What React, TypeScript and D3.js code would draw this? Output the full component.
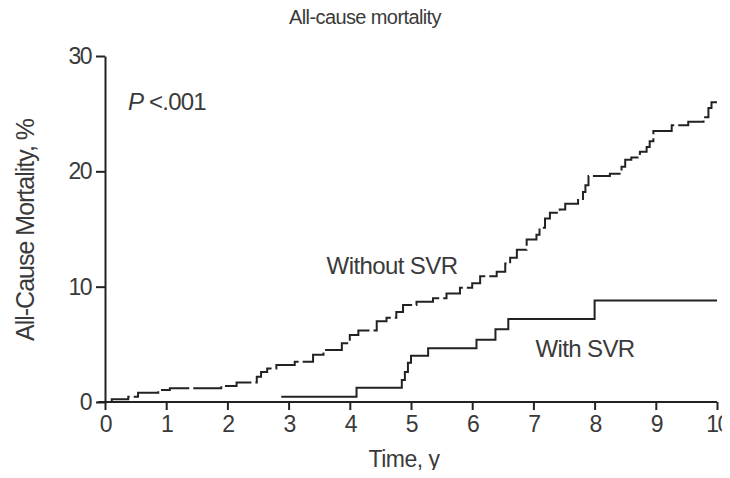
import React, { useEffect, useRef } from 'react';
import * as d3 from 'd3';

// step points [time (y), mortality (%)]
const withoutSvr: [number, number][] = [
  [0, 0], [0.11, 0.23], [0.38, 0.46], [0.54, 0.8], [0.87, 1.04], [1.06, 1.19],
  [1.9, 1.39], [2.15, 1.7], [2.48, 2.2], [2.55, 2.6], [2.65, 2.9], [2.8, 3.2],
  [3.1, 3.5], [3.4, 4.1], [3.57, 4.5], [3.87, 5.1], [4.0, 5.8], [4.14, 6.2],
  [4.44, 7.0], [4.6, 7.3], [4.76, 7.8], [4.87, 8.4], [5.09, 8.7], [5.36, 9.0],
  [5.58, 9.4], [5.8, 9.9], [6.0, 10.3], [6.13, 10.9], [6.4, 11.3], [6.54, 12.0],
  [6.62, 12.5], [6.73, 13.2], [6.89, 14.1], [7.05, 14.5], [7.1, 15.1], [7.19, 15.9],
  [7.27, 16.4], [7.43, 16.7], [7.52, 17.2], [7.73, 17.6], [7.81, 18.2], [7.85, 18.8],
  [7.9, 19.6], [8.25, 19.8], [8.44, 20.4], [8.5, 21.0], [8.6, 21.2], [8.74, 21.7],
  [8.85, 22.1], [8.9, 22.6], [8.96, 23.5], [9.26, 24.0], [9.53, 24.3], [9.78, 24.7],
  [9.86, 25.5], [9.91, 26.0], [10, 26.0],
];

const withSvr: [number, number][] = [
  [2.88, 0.46], [4.11, 1.24], [4.85, 1.9], [4.9, 2.6], [4.95, 3.4], [5.0, 4.0],
  [5.28, 4.65], [6.07, 5.4], [6.38, 6.3], [6.59, 7.2], [8.0, 8.8], [10, 8.8],
];

const xTicks = [0, 1, 2, 3, 4, 5, 6, 7, 8, 9, 10];
const yTicks = [0, 10, 20, 30];

const W = 730;
const H = 478;

export default function App() {
  const ref = useRef<SVGSVGElement>(null);

  useEffect(() => {
    const svg = d3.select(ref.current);
    svg.selectAll('*').remove();

    const x = d3.scaleLinear().domain([0, 10]).range([105, 717]);
    const y = d3.scaleLinear().domain([0, 30]).range([402, 56]);
    const font = '"Liberation Sans", Arial, sans-serif';
    const textColor = '#3a3a3a';
    const ink = '#222';

    const line = d3.line<[number, number]>()
      .x(d => x(d[0]))
      .y(d => y(d[1]))
      .curve(d3.curveStepAfter);

    svg.append('path')
      .datum(withoutSvr)
      .attr('d', line)
      .attr('fill', 'none')
      .attr('stroke', ink)
      .attr('stroke-width', 2)
      .attr('stroke-dasharray', '30,4');

    svg.append('path')
      .datum(withSvr)
      .attr('d', line)
      .attr('fill', 'none')
      .attr('stroke', ink)
      .attr('stroke-width', 2);

    // axes
    const xAxis = svg.append('g')
      .attr('transform', `translate(0,${y(0)})`)
      .call(d3.axisBottom(x).tickValues(xTicks).tickSize(8).tickSizeOuter(0).tickPadding(6));
    const yAxis = svg.append('g')
      .attr('transform', `translate(${x(0)},0)`)
      .call(d3.axisLeft(y).tickValues(yTicks).tickSize(9).tickSizeOuter(0).tickPadding(5));

    [xAxis, yAxis].forEach(a => {
      a.select('.domain').attr('stroke', ink).attr('stroke-width', 2);
      a.selectAll('.tick line').attr('stroke', ink).attr('stroke-width', 2);
      a.selectAll('.tick text')
        .attr('fill', textColor)
        .style('font-family', font)
        .style('font-size', '23px')
        .style('letter-spacing', '-1.5px');
    });
    // extend x axis slightly left of the y axis, as in the original
    xAxis.select('.domain').attr('d', `M${x(0) - 7},0H${x(10)}`);

    const label = (t: string, tx: number, ty: number, size: number, spacing = -1) =>
      svg.append('text')
        .attr('x', tx)
        .attr('y', ty)
        .attr('text-anchor', 'middle')
        .attr('fill', textColor)
        .style('font-family', font)
        .style('font-size', `${size}px`)
        .style('letter-spacing', `${spacing}px`)
        .text(t);

    label('All-cause mortality', 365, 24, 20, -0.6);
    label('Time, y', 404, 467, 23, -0.5);
    label('Without SVR', 392, 274, 24, -0.6);
    label('With SVR', 585, 357, 24, -0.6);

    const p = svg.append('text')
      .attr('x', 128)
      .attr('y', 110)
      .attr('fill', textColor)
      .style('font-family', font)
      .style('font-size', '24px')
      .style('letter-spacing', '-0.8px');
    p.append('tspan').style('font-style', 'italic').text('P');
    p.append('tspan').text(' <.001');

    label('All-Cause Mortality, %', 0, 0, 25)
      .attr('transform', `translate(34,230) rotate(-90)`);
  }, []);

  return <svg ref={ref} width={W} height={H} style={{ display: 'block', margin: '-8px' }} />;
}
